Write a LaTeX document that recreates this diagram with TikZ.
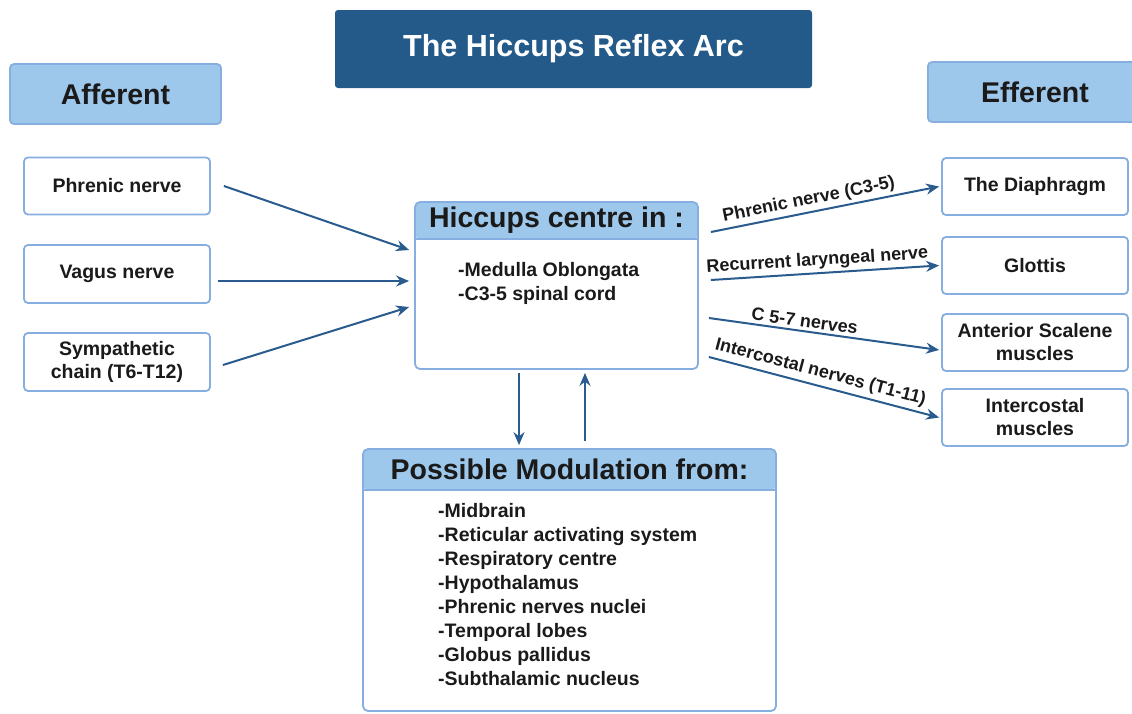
\documentclass[tikz,border=0pt]{standalone}
\usepackage{fontspec}
\setmainfont{Liberation Sans}
\usetikzlibrary{arrows.meta,calc}
\definecolor{darkb}{HTML}{245A89}
\definecolor{lb}{HTML}{9EC8EB}
\definecolor{bordc}{HTML}{86AEE0}
\definecolor{arrc}{HTML}{2A5B8E}
\definecolor{txt}{HTML}{1A1A1A}
\tikzset{
  whitebox/.style={draw=bordc, line width=1.8pt, rounded corners=4pt, fill=white, text=txt,
    font=\bfseries\fontsize{19.5}{23}\selectfont, align=center, inner sep=0pt},
  hdrbox/.style={draw=bordc, fill=lb, line width=1.8pt, rounded corners=4pt, text=txt,
    font=\bfseries\fontsize{28.5}{32}\selectfont, inner sep=0pt},
  bigbox/.style={draw=bordc, line width=1.8pt, rounded corners=5pt, fill=white, inner sep=0pt},
  hdrtext/.style={text=txt, font=\bfseries\fontsize{28.5}{32}\selectfont, inner sep=0pt},
  listtext/.style={text=txt, font=\bfseries\fontsize{19.5}{24}\selectfont, align=left, inner sep=0pt},
  arr/.style={draw=arrc, line width=2pt, -{Stealth[length=13pt,width=11pt]}},
  elabel/.style={text=txt, font=\bfseries\fontsize{18}{20}\selectfont, sloped, above, inner sep=3pt}
}
\begin{document}
\begin{tikzpicture}[x=1pt,y=-1pt]
\useasboundingbox (0,0) rectangle (1132,713);
% title
\node[fill=darkb, rounded corners=3pt, minimum width=477pt, minimum height=78pt, inner sep=0pt,
  text=white, font=\bfseries\fontsize{30.5}{34}\selectfont] (title) at (573.5,49) {The Hiccups Reflex Arc};
% headers
\node[hdrbox, minimum width=211pt, minimum height=60pt] (aff) at (115.5,94) {Afferent};
\node[hdrbox, minimum width=214pt, minimum height=60pt] (eff) at (1035,92) {Efferent};
% afferent boxes
\node[whitebox, minimum width=186pt, minimum height=57pt] (pn) at (117,186) {Phrenic nerve};
\node[whitebox, minimum width=186pt, minimum height=58pt] (vn) at (117,274) {Vagus nerve};
\node[whitebox, minimum width=186pt, minimum height=58pt] (sc) at (117,362) {Sympathetic\\chain (T6-T12)};
% efferent boxes
\node[whitebox, minimum width=186pt, minimum height=57pt] (dia) at (1035,186.5) {The Diaphragm};
\node[whitebox, minimum width=186pt, minimum height=57pt] (glo) at (1035,265.5) {Glottis};
\node[whitebox, minimum width=186pt, minimum height=57pt] (asm) at (1035,342.5) {Anterior Scalene\\muscles};
\node[whitebox, minimum width=186pt, minimum height=57pt] (icm) at (1035,417.5) {Intercostal\\muscles};
% hiccups centre
\node[bigbox, minimum width=283pt, minimum height=167pt,
  path picture={\fill[lb] (path picture bounding box.north west) rectangle ([yshift=-37pt]path picture bounding box.north east);
  \draw[bordc, line width=1.2pt] ([yshift=-37pt]path picture bounding box.north west) -- ([yshift=-37pt]path picture bounding box.north east);}]
  (hc) at (556.5,285.5) {};
\node[hdrtext] (hct) at (556.5,220) {Hiccups centre in :};
\node[listtext, anchor=north west] (hcl) at (458,262) {-Medulla Oblongata\\-C3-5 spinal cord};
% modulation
\node[bigbox, minimum width=413pt, minimum height=262pt,
  path picture={\fill[lb] (path picture bounding box.north west) rectangle ([yshift=-41pt]path picture bounding box.north east);
  \draw[bordc, line width=1.2pt] ([yshift=-41pt]path picture bounding box.north west) -- ([yshift=-41pt]path picture bounding box.north east);}]
  (mod) at (569.5,580) {};
\node[hdrtext] (modt) at (569.5,469) {Possible Modulation from:};
\node[listtext, anchor=north west] (modl) at (438,503) {-Midbrain\\-Reticular activating system\\-Respiratory centre\\-Hypothalamus\\-Phrenic nerves nuclei\\-Temporal lobes\\-Globus pallidus\\-Subthalamic nucleus};
% afferent arrows
\draw[arr] ([xshift=13pt]pn.east) -- ([xshift=-5pt,yshift=35.5pt]hc.west);
\draw[arr] ([xshift=7pt,yshift=-7pt]vn.east) -- ([xshift=-5pt,yshift=4.5pt]hc.west);
\draw[arr] ([xshift=12pt,yshift=-3pt]sc.east) -- ([xshift=-5pt,yshift=-21.5pt]hc.west);
% efferent arrows
\draw[arr] ([xshift=12pt,yshift=53.5pt]hc.east) -- node[elabel, pos=0.44] (l1) {Phrenic nerve (C3-5)} ([xshift=-2pt]dia.west);
\draw[arr] ([xshift=12pt,yshift=5.5pt]hc.east) -- node[elabel, pos=0.47] (l2) {Recurrent laryngeal nerve} ([xshift=-2pt]glo.west);
\draw[arr] ([xshift=10pt,yshift=-32.5pt]hc.east) -- node[elabel, pos=0.41] (l3) {C 5-7 nerves} ([xshift=-2pt,yshift=-7.5pt]asm.west);
\draw[arr] ([xshift=10pt,yshift=-71.5pt]hc.east) -- node[elabel, pos=0.47, inner sep=4pt] (l4) {Intercostal nerves (T1-11)} ([xshift=-2pt]icm.west);
% vertical arrows
\draw[arr] ([xshift=-37.5pt,yshift=-3pt]hc.south) -- ([xshift=-50.5pt,yshift=3pt]mod.north);
\draw[arr] ([xshift=15.5pt,yshift=7pt]mod.north) -- ([xshift=28.5pt,yshift=-3pt]hc.south);
\end{tikzpicture}
\end{document}
